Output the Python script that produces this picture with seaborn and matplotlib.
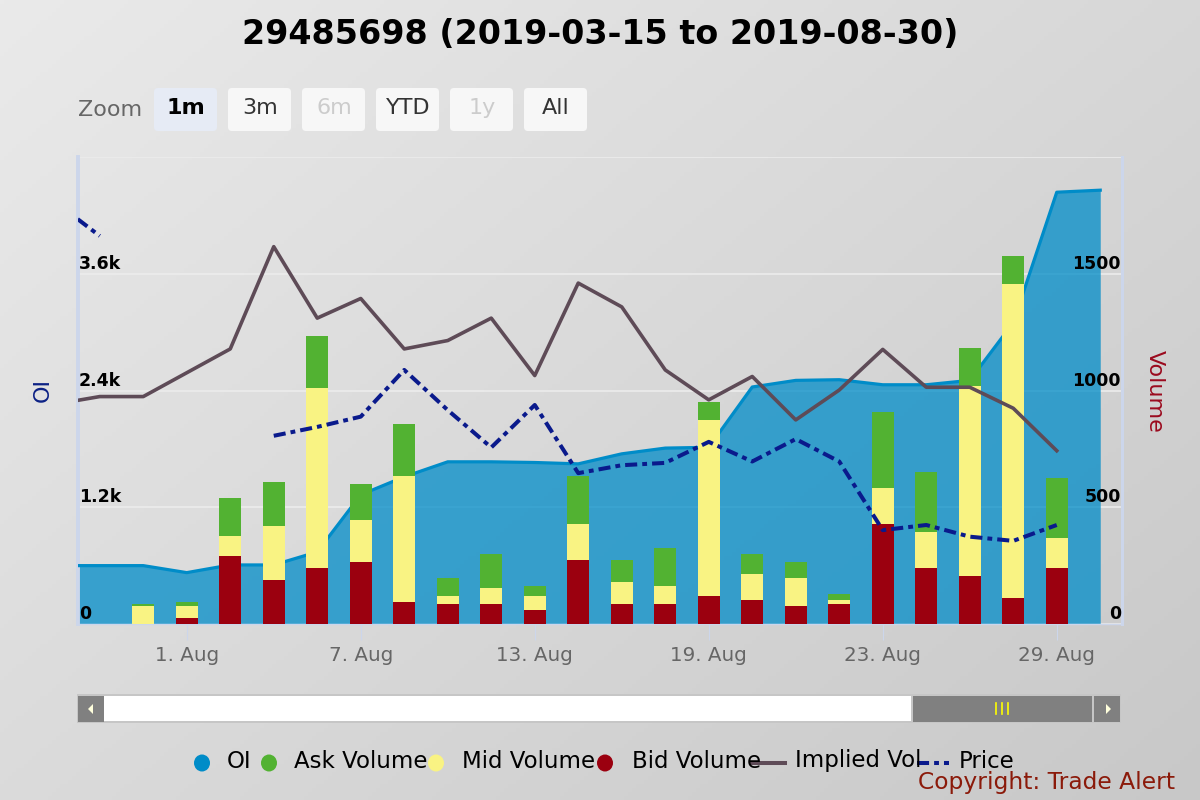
import numpy as np
import pandas as pd
import seaborn as sns
import matplotlib.pyplot as plt
import matplotlib.transforms as mtransforms
from matplotlib.patches import FancyBboxPatch, Rectangle, Polygon, Ellipse
from matplotlib.lines import Line2D

# ---- data ----
dates = ["2019-07-29", "2019-07-30", "2019-07-31", "2019-08-01", "2019-08-02",
         "2019-08-05", "2019-08-06", "2019-08-07", "2019-08-08", "2019-08-09",
         "2019-08-12", "2019-08-13", "2019-08-14", "2019-08-15", "2019-08-16",
         "2019-08-19", "2019-08-20", "2019-08-21", "2019-08-22", "2019-08-23",
         "2019-08-26", "2019-08-27", "2019-08-28", "2019-08-29", "2019-08-30"]
oi = [600, 600, 600, 528, 607, 607, 741, 1328, 1513, 1667,
      1667, 1660, 1646, 1749, 1808, 1816, 2436, 2504, 2511, 2459,
      2459, 2504, 3097, 4438, 4459]
bid_vol = [0, 0, 0, 26, 291, 189, 240, 266, 94, 86,
           86, 60, 274, 86, 86, 120, 103, 77, 86, 429,
           240, 206, 111, 240, 0]
mid_vol = [0, 0, 77, 51, 86, 231, 771, 180, 540, 34,
           69, 60, 154, 94, 77, 754, 111, 120, 17, 154,
           154, 814, 1346, 129, 0]
ask_vol = [0, 0, 9, 17, 163, 189, 223, 154, 223, 77,
           146, 43, 206, 94, 163, 77, 86, 69, 26, 326,
           257, 163, 120, 257, 0]
implied_vol = [47.1, 48.7, 48.7, 53.8, 58.9, 80.8, 65.5, 69.7, 58.9, 60.7,
               65.5, 53.2, 73.0, 67.9, 54.4, 48.0, 53.0, 43.7, 50.1, 58.8,
               50.7, 50.7, 46.2, 37.1, np.nan]
price = [9.02, 8.31, np.nan, np.nan, np.nan, 4.03, 4.22, 4.44, 5.44, 4.58,
         3.78, 4.69, 3.23, 3.40, 3.45, 3.90, 3.48, 3.96, 3.48, 2.01,
         2.12, 1.87, 1.78, 2.12, np.nan]

xtick_dates = ["2019-08-01", "2019-08-07", "2019-08-13", "2019-08-19", "2019-08-23", "2019-08-29"]
xtick_labels = ["1. Aug", "7. Aug", "13. Aug", "19. Aug", "23. Aug", "29. Aug"]
oi_ticks = [0, 1200, 2400, 3600]
oi_tick_labels = ["0", "1.2k", "2.4k", "3.6k"]
vol_ticks = [0, 500, 1000, 1500]
vol_tick_labels = ["0", "500", "1000", "1500"]
zoom_buttons = ["1m", "3m", "6m", "YTD", "1y", "All"]
legend_names = ["OI", "Ask Volume", "Mid Volume", "Bid Volume", "Implied Vol", "Price"]
title = "29485698 (2019-03-15 to 2019-08-30)"

OI_COL = "#008cc8"
ASK_COL = "#52b232"
MID_COL = "#f9f383"
BID_COL = "#9b000f"
IV_COL = "#5e4b57"
PX_COL = "#0a1a8c"
AXIS_COL = "#ccd6eb"
PX_DASH = (0, (3, 1.25, 1.2, 1.25))

df = pd.DataFrame({"date": dates, "oi": oi, "bid": bid_vol, "mid": mid_vol,
                   "ask": ask_vol, "iv": implied_vol, "price": price})
df["idx"] = np.arange(len(df))
df["mid_top"] = df["bid"] + df["mid"]
df["total"] = df["mid_top"] + df["ask"]

W, H = 1200, 800


def px_box(x0, y0, x1, y1):
    return [x0 / W, 1 - y1 / H, (x1 - x0) / W, (y1 - y0) / H]


fig = plt.figure(figsize=(12, 8), dpi=100)

# gradient background
bg = fig.add_axes([0, 0, 1, 1], zorder=-2)
gx, gy = np.meshgrid(np.linspace(0, 1, 300), np.linspace(0, 1, 200))
g = gx * 0.55 + gy * 0.45
c0 = np.array([234, 234, 234]) / 255
c1 = np.array([200, 200, 200]) / 255
bg.imshow(c0 + (c1 - c0) * g[..., None], extent=[0, 1, 0, 1], aspect="auto", origin="upper")
bg.axis("off")

# main plot and twin axes
ax = fig.add_axes(px_box(78, 157, 1122, 624))
ax.patch.set_visible(False)
ax_vol = ax.twinx()
ax_iv = ax.twinx()
ax_px = ax.twinx()

# OI area
ax.fill_between(df["idx"], df["oi"], color=OI_COL, alpha=0.75, linewidth=0, zorder=2)
sns.lineplot(data=df, x="idx", y="oi", ax=ax, color=OI_COL, linewidth=2.3, zorder=3)

# stacked volume bars
for col, c in [("total", ASK_COL), ("mid_top", MID_COL), ("bid", BID_COL)]:
    sns.barplot(data=df, x="idx", y=col, ax=ax_vol, native_scale=True, width=0.5,
                color=c, saturation=1, errorbar=None, linewidth=0)

# implied vol
sns.lineplot(data=df.dropna(subset=["iv"]), x="idx", y="iv", ax=ax_iv,
             color=IV_COL, linewidth=2.6)

# price (with gaps)
px_df = df.dropna(subset=["price"]).copy()
px_df["seg"] = (px_df["idx"].diff() != 1).cumsum()
sns.lineplot(data=px_df, x="idx", y="price", units="seg", estimator=None, ax=ax_px,
             color=PX_COL, linewidth=2.9, linestyle=PX_DASH)

ax.set_ylim(0, 4800)
ax_vol.set_ylim(0, 2000)
ax_iv.set_ylim(0, 100)
ax_px.set_ylim(0, 10)
ax.set_xlim(0.5, 24.5)

for a in (ax, ax_vol, ax_iv, ax_px):
    a.set_xlabel("")
    a.set_ylabel("")
    for s in a.spines.values():
        s.set_visible(False)
    a.tick_params(axis="y", length=0, labelleft=False, labelright=False)

ax.spines["left"].set_visible(True)
ax.spines["left"].set_color(AXIS_COL)
ax.spines["left"].set_linewidth(2.8)
ax.spines["bottom"].set_visible(True)
ax.spines["bottom"].set_color(AXIS_COL)
ax.spines["bottom"].set_linewidth(1.0)
ax_vol.spines["right"].set_visible(True)
ax_vol.spines["right"].set_color(AXIS_COL)
ax_vol.spines["right"].set_linewidth(2.2)

ax.set_yticks(oi_ticks + [4800])
ax.grid(axis="y", color="#ececec", linewidth=1.2)
ax.grid(axis="x", visible=False)
ax.set_axisbelow(True)

ax.set_xticks([dates.index(d) for d in xtick_dates])
ax.set_xticklabels(xtick_labels)
ax.tick_params(axis="x", length=11.5, width=0.8, color=AXIS_COL,
               labelsize=14.3, labelcolor="#666666", pad=4)

# y tick labels inside the plot, above gridlines
oi_px = 4800 / 467
vol_px = 2000 / 467
tl = mtransforms.blended_transform_factory(ax.transAxes, ax.transData)
for v, lab in zip(oi_ticks, oi_tick_labels):
    ax.text(0.001, v + 5 * oi_px, lab, transform=tl, ha="left", va="baseline",
            fontsize=12.5, fontweight="bold", color="black", zorder=6)
tr = mtransforms.blended_transform_factory(ax_vol.transAxes, ax_vol.transData)
for v, lab in zip(vol_ticks, vol_tick_labels):
    ax_vol.text(0.999, v + 5 * vol_px, lab, transform=tr, ha="right", va="baseline",
                fontsize=12.5, fontweight="bold", color="black", zorder=6)

# overlay for chart furniture (pixel coordinates)
ui = fig.add_axes([0, 0, 1, 1], zorder=3)
ui.set_xlim(0, W)
ui.set_ylim(H, 0)
ui.axis("off")

ui.text(600, 34, title, ha="center", va="center", fontsize=24, fontweight="bold")
ui.text(43, 390, "OI", rotation=90, ha="center", va="center", fontsize=16, color="#0c2185")
ui.text(1155, 391, "Volume", rotation=270, ha="center", va="center", fontsize=16, color="#9b0a1e")

# range selector buttons
ui.text(78, 110, "Zoom", ha="left", va="center", fontsize=16, color="#666666")
btn_x = [154, 228, 302, 376, 450, 524]
for i, (bx, lab) in enumerate(zip(btn_x, zoom_buttons)):
    face = "#e6ebf5" if i == 0 else "#f7f7f7"
    ui.add_patch(FancyBboxPatch((bx, 88), 63, 43, boxstyle="round,pad=0,rounding_size=4",
                                facecolor=face, edgecolor="none"))
    tc = "#cccccc" if lab in ("6m", "1y") else ("black" if i == 0 else "#333333")
    ui.text(bx + 32, 108, lab, ha="center", va="center", fontsize=16, color=tc,
            fontweight="bold" if i == 0 else "normal")

# navigator scrollbar
ui.add_patch(Rectangle((77, 694), 1044, 29, facecolor="#c6c6c6", edgecolor="none"))
ui.add_patch(Rectangle((104, 696), 807, 25, facecolor="white", edgecolor="none"))
ui.add_patch(Rectangle((78, 696), 26, 26, facecolor="#808080", edgecolor="none"))
ui.add_patch(Rectangle((913, 696), 179, 26, facecolor="#808080", edgecolor="none"))
ui.add_patch(Rectangle((1094, 696), 26, 26, facecolor="#808080", edgecolor="none"))
ui.add_patch(Polygon([(88, 709), (93, 704), (93, 714)], closed=True, facecolor="#ffffdd", edgecolor="none"))
ui.add_patch(Polygon([(1111, 709), (1106, 704), (1106, 714)], closed=True, facecolor="#ffffdd", edgecolor="none"))
for gxp in (996, 1002, 1008):
    ui.add_line(Line2D([gxp, gxp], [703, 714], color="yellow", linewidth=1.2))

# legend
leg_colors = [OI_COL, ASK_COL, MID_COL, BID_COL]
mark_x = [202, 269, 436, 605]
text_x = [227, 294, 462, 632, 795, 959]
for mx, c in zip(mark_x, leg_colors):
    ui.add_patch(Ellipse((mx, 763), 16, 17, facecolor=c, edgecolor="none"))
ui.add_line(Line2D([751, 785], [763, 763], color=IV_COL, linewidth=2.9))
ui.add_line(Line2D([917, 949], [763, 763], color=PX_COL, linewidth=2.9, linestyle=PX_DASH))
for tx, name in zip(text_x, legend_names):
    ui.text(tx, 761, name, ha="left", va="center", fontsize=16.5, color="black")

ui.text(918, 783, "Copyright: Trade Alert", ha="left", va="center", fontsize=16.8, color="#8b1a0a")

fig.savefig("out.png", dpi=100)
